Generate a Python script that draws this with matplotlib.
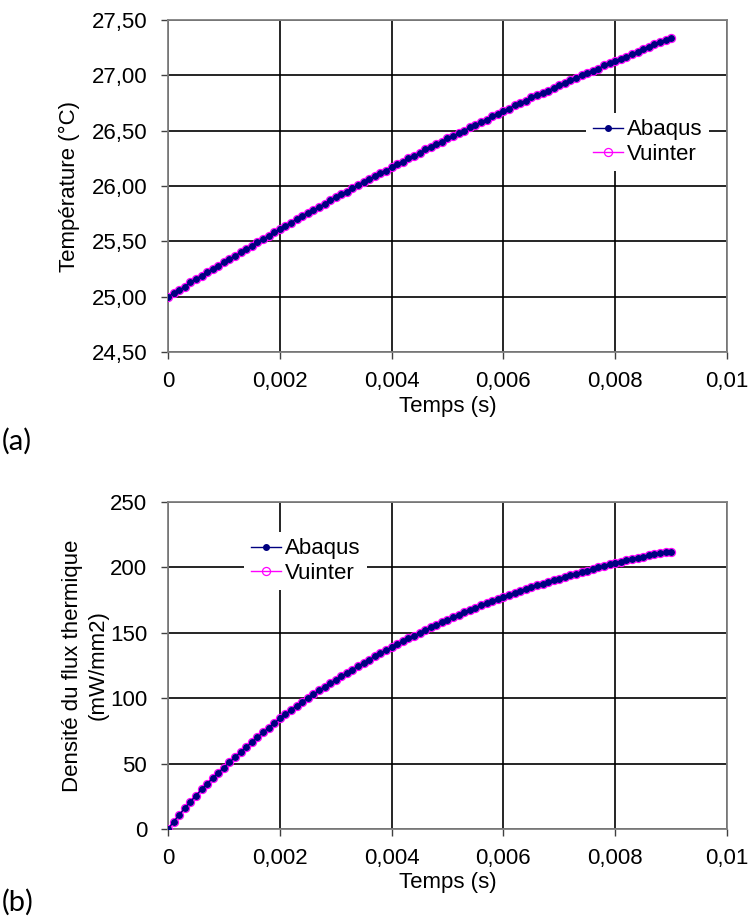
import numpy as np
import matplotlib
matplotlib.use('Agg')
import matplotlib.pyplot as plt

plt.rcParams['font.family'] = ['Liberation Sans', 'DejaVu Sans']

# time steps (s), one sample every 0.0001 s
temps = np.linspace(0, 0.009, 91)
xticks = [0, 0.002, 0.004, 0.006, 0.008, 0.01]
xticklabels = ['0', '0,002', '0,004', '0,006', '0,008', '0,01']

# (a) temperature (deg C)
temp_abaqus = [
    25.00, 25.03, 25.06, 25.09, 25.13, 25.16, 25.19, 25.22, 25.25, 25.28,
    25.31, 25.34, 25.37, 25.40, 25.43, 25.46, 25.49, 25.52, 25.55, 25.58,
    25.61, 25.64, 25.67, 25.70, 25.73, 25.76, 25.78, 25.81, 25.84, 25.87,
    25.90, 25.93, 25.95, 25.98, 26.01, 26.04, 26.06, 26.09, 26.12, 26.14,
    26.17, 26.20, 26.22, 26.25, 26.27, 26.30, 26.33, 26.35, 26.38, 26.40,
    26.43, 26.45, 26.48, 26.50, 26.53, 26.55, 26.58, 26.60, 26.63, 26.65,
    26.68, 26.70, 26.73, 26.75, 26.77, 26.80, 26.82, 26.84, 26.86, 26.89,
    26.91, 26.93, 26.96, 26.98, 27.00, 27.02, 27.04, 27.06, 27.09, 27.11,
    27.13, 27.15, 27.17, 27.19, 27.21, 27.24, 27.26, 27.28, 27.30, 27.32,
    27.34]
temp_vuinter = [
    25.00, 25.03, 25.06, 25.09, 25.13, 25.16, 25.19, 25.22, 25.25, 25.28,
    25.31, 25.34, 25.37, 25.40, 25.43, 25.46, 25.49, 25.52, 25.55, 25.58,
    25.61, 25.64, 25.67, 25.70, 25.73, 25.76, 25.78, 25.81, 25.84, 25.87,
    25.90, 25.93, 25.95, 25.98, 26.01, 26.04, 26.06, 26.09, 26.12, 26.14,
    26.17, 26.20, 26.22, 26.25, 26.27, 26.30, 26.33, 26.35, 26.38, 26.40,
    26.43, 26.45, 26.48, 26.50, 26.53, 26.55, 26.58, 26.60, 26.63, 26.65,
    26.68, 26.70, 26.73, 26.75, 26.77, 26.80, 26.82, 26.84, 26.86, 26.89,
    26.91, 26.93, 26.96, 26.98, 27.00, 27.02, 27.04, 27.06, 27.09, 27.11,
    27.13, 27.15, 27.17, 27.19, 27.21, 27.24, 27.26, 27.28, 27.30, 27.32,
    27.34]
temp_ticks = [24.5, 25.0, 25.5, 26.0, 26.5, 27.0, 27.5]

# (b) heat flux density (mW/mm2)
flux_abaqus = [
    0.0, 5.5, 10.8, 15.9, 20.8, 25.6, 30.2, 34.6, 38.9, 43.0,
    47.0, 51.0, 54.9, 58.8, 62.6, 66.4, 70.1, 73.8, 77.4, 81.0,
    84.5, 87.8, 91.0, 94.1, 97.1, 100.1, 103.0, 105.9, 108.7, 111.4,
    114.0, 116.7, 119.3, 121.9, 124.5, 127.0, 129.5, 132.0, 134.4, 136.7,
    139.0, 141.3, 143.5, 145.7, 147.9, 150.0, 152.1, 154.1, 156.1, 158.1,
    160.0, 161.9, 163.8, 165.6, 167.4, 169.2, 170.9, 172.6, 174.3, 175.9,
    177.5, 179.0, 180.5, 182.0, 183.4, 184.8, 186.2, 187.6, 189.0, 190.3,
    191.5, 192.8, 194.0, 195.2, 196.4, 197.6, 198.8, 200.0, 201.2, 202.4,
    203.5, 204.5, 205.5, 206.4, 207.3, 208.2, 209.1, 209.9, 210.7, 211.4,
    212.0]
flux_vuinter = [
    0.0, 5.5, 10.8, 15.9, 20.8, 25.6, 30.2, 34.6, 38.9, 43.0,
    47.0, 51.0, 54.9, 58.8, 62.6, 66.4, 70.1, 73.8, 77.4, 81.0,
    84.5, 87.8, 91.0, 94.1, 97.1, 100.1, 103.0, 105.9, 108.7, 111.4,
    114.0, 116.7, 119.3, 121.9, 124.5, 127.0, 129.5, 132.0, 134.4, 136.7,
    139.0, 141.3, 143.5, 145.7, 147.9, 150.0, 152.1, 154.1, 156.1, 158.1,
    160.0, 161.9, 163.8, 165.6, 167.4, 169.2, 170.9, 172.6, 174.3, 175.9,
    177.5, 179.0, 180.5, 182.0, 183.4, 184.8, 186.2, 187.6, 189.0, 190.3,
    191.5, 192.8, 194.0, 195.2, 196.4, 197.6, 198.8, 200.0, 201.2, 202.4,
    203.5, 204.5, 205.5, 206.4, 207.3, 208.2, 209.1, 209.9, 210.7, 211.4,
    212.0]
flux_ticks = [0, 50, 100, 150, 200, 250]

W, H = 748, 921
fig = plt.figure(figsize=(W / 100, H / 100), dpi=100)
ax1 = fig.add_axes([168 / W, 1 - 352 / H, 559 / W, 332 / H])
ax2 = fig.add_axes([168 / W, 1 - 829 / H, 559 / W, 327 / H])

FS = 16


def style(ax, yticks, ylabels):
    ax.set_xlim(0, 0.01)
    ax.set_xticks(xticks)
    ax.set_xticklabels(xticklabels)
    ax.set_ylim(yticks[0], yticks[-1])
    ax.set_yticks(yticks)
    ax.set_yticklabels(ylabels)
    ax.grid(True, color='black', linewidth=1.2)
    ax.set_axisbelow(True)
    for s in ax.spines.values():
        s.set_color('#808080')
        s.set_linewidth(1.3)
    ax.tick_params(direction='out', length=5, width=1, color='#404040',
                   labelsize=FS)
    ax.tick_params(axis='x', pad=9)
    ax.tick_params(axis='y', pad=10)
    ax.set_xlabel('Temps (s)', fontsize=FS)
    ax.xaxis.set_label_coords(0.5, -0.133)


def curves(ax, ab, vu):
    ax.plot(temps, vu, color='#FF00FF', lw=1, marker='o', ms=5.8,
            mfc='none', mec='#FF00FF', mew=0.9, label='Vuinter', zorder=3)
    ax.plot(temps, ab, color='#000080', lw=1, marker='o', ms=4,
            mfc='#000080', mec='#000080', label='Abaqus', zorder=4)


curves(ax1, temp_abaqus, temp_vuinter)
style(ax1, temp_ticks, [('%.2f' % v).replace('.', ',') for v in temp_ticks])
ax1.set_ylabel('Température (°C)', fontsize=FS)
ax1.yaxis.set_label_coords(-0.157, 0.5)

curves(ax2, flux_abaqus, flux_vuinter)
style(ax2, flux_ticks, [str(v) for v in flux_ticks])
ax2.set_ylabel('Densité du flux thermique\n(mW/mm2)', fontsize=FS,
               linespacing=1.25)
ax2.yaxis.set_label_coords(-0.107, 0.5)

for ax, anchor in [(ax1, (0.748, 0.6325)), (ax2, (0.136, 0.8196))]:
    h, l = ax.get_legend_handles_labels()
    leg = ax.legend(h[::-1], l[::-1], loc='center left', bbox_to_anchor=anchor,
                    borderaxespad=0, frameon=True, fancybox=False,
                    fontsize=FS, handlelength=1.35, handletextpad=0.2,
                    labelspacing=0.15, borderpad=0.3)
    leg.get_frame().set_edgecolor('none')
    leg.get_frame().set_facecolor('white')
    leg.get_frame().set_alpha(1)
    leg.set_zorder(5)

fig.text(0.002, 1 - 441 / H, '(a)', fontsize=21, family=['Lato', 'DejaVu Sans'],
         va='center', ha='left')
fig.text(0.002, 1 - 902 / H, '(b)', fontsize=21, family=['Lato', 'DejaVu Sans'],
         va='center', ha='left')

fig.savefig('out.png', dpi=100)
